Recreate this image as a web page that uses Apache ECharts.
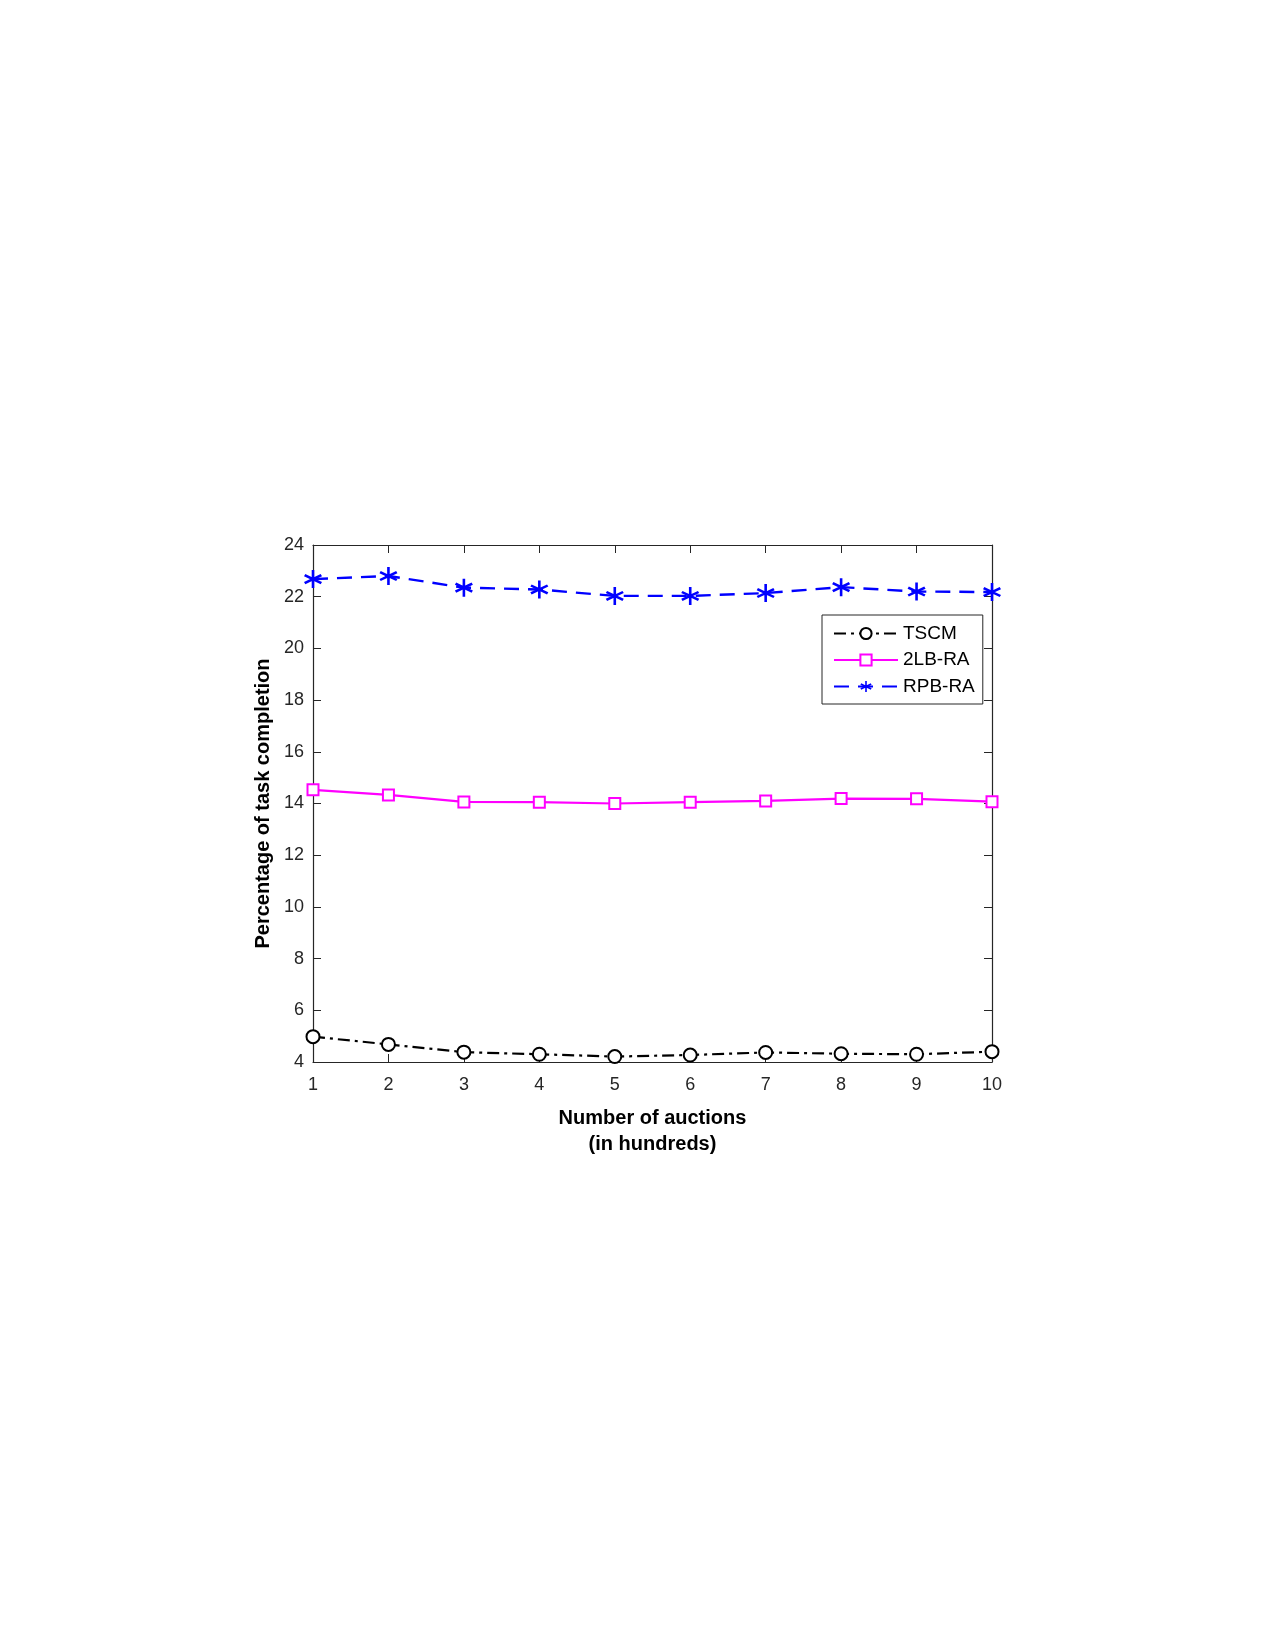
<!DOCTYPE html>
<html>
<head>
<meta charset="utf-8">
<script src="https://cdn.jsdelivr.net/npm/echarts@6/dist/echarts.min.js"></script>
<style>
  html, body { margin: 0; padding: 0; background: #fff; }
  #chart { width: 1275px; height: 1650px; }
</style>
</head>
<body>
<div id="chart"></div>
<script>
// data
var auctions = [1, 2, 3, 4, 5, 6, 7, 8, 9, 10];
var tscm = [4.98, 4.68, 4.38, 4.30, 4.21, 4.27, 4.37, 4.32, 4.30, 4.40];
var lbra = [14.53, 14.33, 14.06, 14.05, 14.00, 14.05, 14.10, 14.19, 14.18, 14.07];
var rpbra = [22.68, 22.80, 22.35, 22.28, 22.03, 22.03, 22.14, 22.37, 22.20, 22.18];
var seriesNames = ['TSCM', '2LB-RA', 'RPB-RA'];

var FONT = '"Liberation Sans", Arial, Helvetica, sans-serif';
var AX = '#262626';

// six-arm asterisk like matlab '*'
var asterisk = 'path://M8.6 0L11.4 0L11.4 20L8.6 20Z' +
    'M0.3 6.8L1.7 4.4L19.7 13.2L18.3 15.6Z' +
    'M0.3 13.2L18.3 4.4L19.7 6.8L1.7 15.6Z';

function pairs(ys) {
    var out = [];
    for (var i = 0; i < ys.length; i++) { out.push([auctions[i], ys[i]]); }
    return out;
}

var chart = echarts.init(document.getElementById('chart'));
var option = {
    backgroundColor: '#fff',
    animation: false,
    grid: { left: 313, top: 545, width: 679, height: 517, show: false },
    legend: {
        orient: 'vertical', left: 822, top: 615,
        padding: [9, 8, 8, 11],
        itemWidth: 64, itemHeight: 14, itemGap: 7.5,
        borderColor: AX, borderWidth: 1, backgroundColor: '#fff',
        textStyle: { fontFamily: FONT, fontSize: 19, color: '#000' },
        data: seriesNames
    },
    xAxis: [{
        type: 'value', min: 1, max: 10, interval: 1,
        name: 'Number of auctions\n(in hundreds)', nameLocation: 'middle', nameGap: 43,
        nameTextStyle: { fontFamily: FONT, fontSize: 20, fontWeight: 'bold', color: '#000', lineHeight: 26 },
        axisLine: { lineStyle: { color: AX, width: 1.2 } },
        axisTick: { inside: true, length: 8, lineStyle: { color: AX } },
        axisLabel: { margin: 14, fontFamily: FONT, fontSize: 18, color: AX },
        splitLine: { show: false }
    }, {
        type: 'value', position: 'top', min: 1, max: 10, interval: 1,
        axisLine: { show: true, lineStyle: { color: AX, width: 1.2 } },
        axisTick: { inside: true, length: 8, lineStyle: { color: AX } },
        axisLabel: { show: false }, splitLine: { show: false }
    }],
    yAxis: [{
        type: 'value', min: 4, max: 24, interval: 2,
        name: 'Percentage of task completion', nameLocation: 'middle', nameGap: 38,
        nameTextStyle: { fontFamily: FONT, fontSize: 20, fontWeight: 'bold', color: '#000' },
        axisLine: { show: true, lineStyle: { color: AX, width: 1.2 } },
        axisTick: { show: true, inside: true, length: 8, lineStyle: { color: AX } },
        axisLabel: { margin: 9, fontFamily: FONT, fontSize: 18, color: AX },
        splitLine: { show: false }
    }, {
        type: 'value', position: 'right', min: 4, max: 24, interval: 2,
        axisLine: { show: true, lineStyle: { color: AX, width: 1.2 } },
        axisTick: { show: true, inside: true, length: 8, lineStyle: { color: AX } },
        axisLabel: { show: false }, splitLine: { show: false }
    }],
    series: [{
        name: seriesNames[0], type: 'line', data: pairs(tscm),
        symbol: 'emptyCircle', symbolSize: 13,
        itemStyle: { color: '#000', borderWidth: 2.5 },
        lineStyle: { color: '#000', width: 2.2, type: [12, 5, 3, 5] }
    }, {
        name: seriesNames[1], type: 'line', data: pairs(lbra),
        symbol: 'emptyRect', symbolSize: 11,
        itemStyle: { color: '#ff00ff', borderWidth: 2 },
        lineStyle: { color: '#ff00ff', width: 2.2 }
    }, {
        name: seriesNames[2], type: 'line', data: pairs(rpbra),
        symbol: asterisk, symbolSize: 18,
        itemStyle: { color: '#0000ff' },
        lineStyle: { color: '#0000ff', width: 2.4, type: [15, 9] }
    }]
};
chart.setOption(option);
</script>
</body>
</html>
